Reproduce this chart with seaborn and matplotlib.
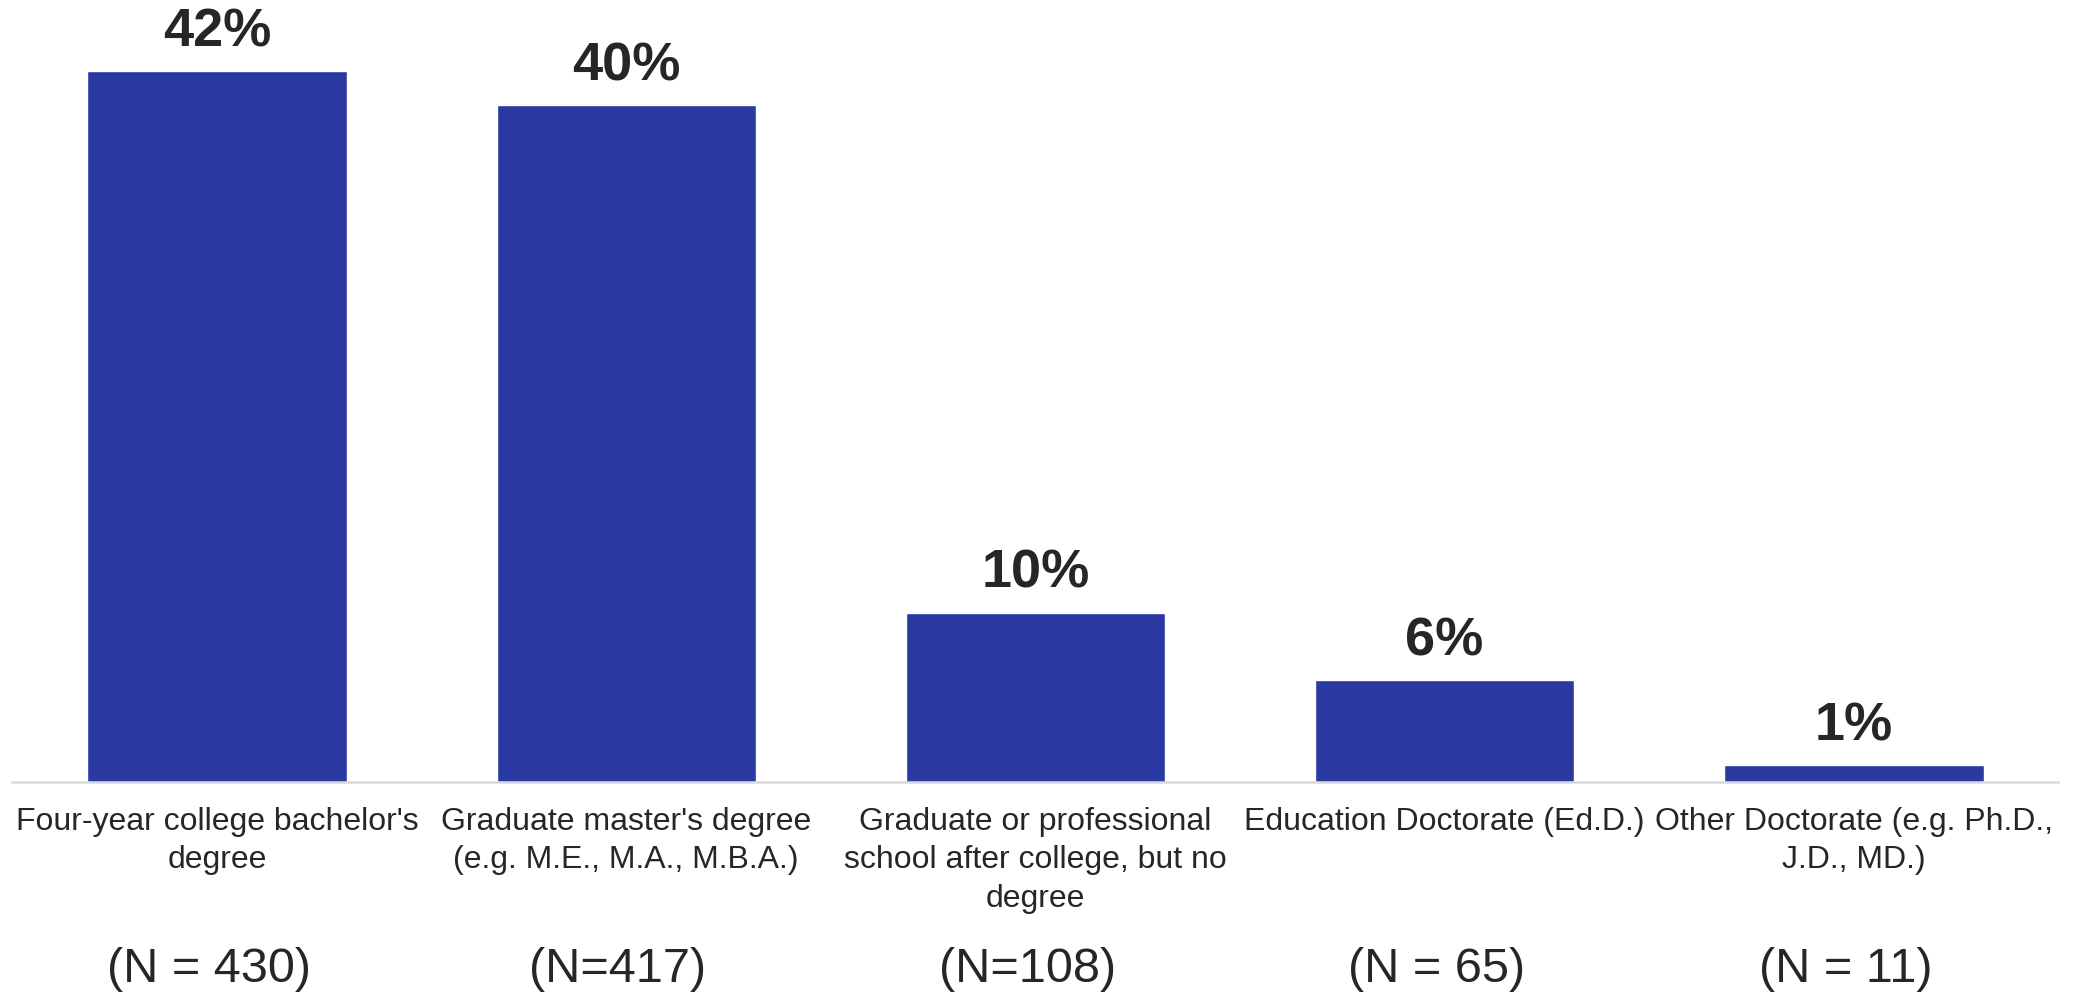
import matplotlib
matplotlib.use("Agg")
import matplotlib.pyplot as plt
import pandas as pd
import seaborn as sns

CATEGORIES = [
    "Four-year college bachelor's\ndegree",
    "Graduate master's degree\n(e.g. M.E., M.A., M.B.A.)",
    "Graduate or professional\nschool after college, but no\ndegree",
    "Education Doctorate (Ed.D.)",
    "Other Doctorate (e.g. Ph.D.,\nJ.D., MD.)",
]
PERCENTS = [42, 40, 10, 6, 1]
N_LABELS = ["(N = 430)", "(N=417)", "(N=108)", "(N = 65)", "(N = 11)"]

BAR_COLOR = "#2B3AA3"
TEXT_COLOR = "#262626"


def main() -> None:
    sns.set_theme(style="white")
    plt.rcParams["font.family"] = ["Liberation Sans", "DejaVu Sans"]

    df = pd.DataFrame({"category": CATEGORIES, "percent": PERCENTS})

    fig = plt.figure(figsize=(20.75, 9.97), dpi=100)
    ax = fig.add_axes([0.006, 0.2157, 0.986, 0.7843])

    sns.barplot(data=df, x="category", y="percent", color=BAR_COLOR,
                saturation=1, width=0.634, ax=ax)

    ax.set_ylim(0, 46.2)
    ax.set_xlim(-0.5, len(CATEGORIES) - 0.5)
    ax.set_xlabel("")
    ax.set_ylabel("")
    ax.set_yticks([])
    ax.tick_params(axis="x", length=0, pad=18, labelsize=23,
                   labelcolor=TEXT_COLOR)
    for label in ax.get_xticklabels():
        label.set_linespacing(1.36)

    for side in ["top", "left", "right"]:
        ax.spines[side].set_visible(False)
    ax.spines["bottom"].set_color("#D9D9D9")
    ax.spines["bottom"].set_linewidth(1.8)

    # value labels above each bar
    for i, value in enumerate(PERCENTS):
        ax.annotate(f"{value}%", (i, value), xytext=(0, 10),
                    textcoords="offset points", ha="center", va="bottom",
                    fontsize=39, fontweight="bold", color=TEXT_COLOR)

    # sample sizes under the category labels
    for i, n_text in enumerate(N_LABELS):
        ax.annotate(n_text, (i, -0.24), xycoords=("data", "axes fraction"),
                    xytext=(-6, 0), textcoords="offset points",
                    ha="center", va="center", fontsize=35, color=TEXT_COLOR)

    fig.savefig("out.png", dpi=100)
    plt.close(fig)


if __name__ == "__main__":
    main()
